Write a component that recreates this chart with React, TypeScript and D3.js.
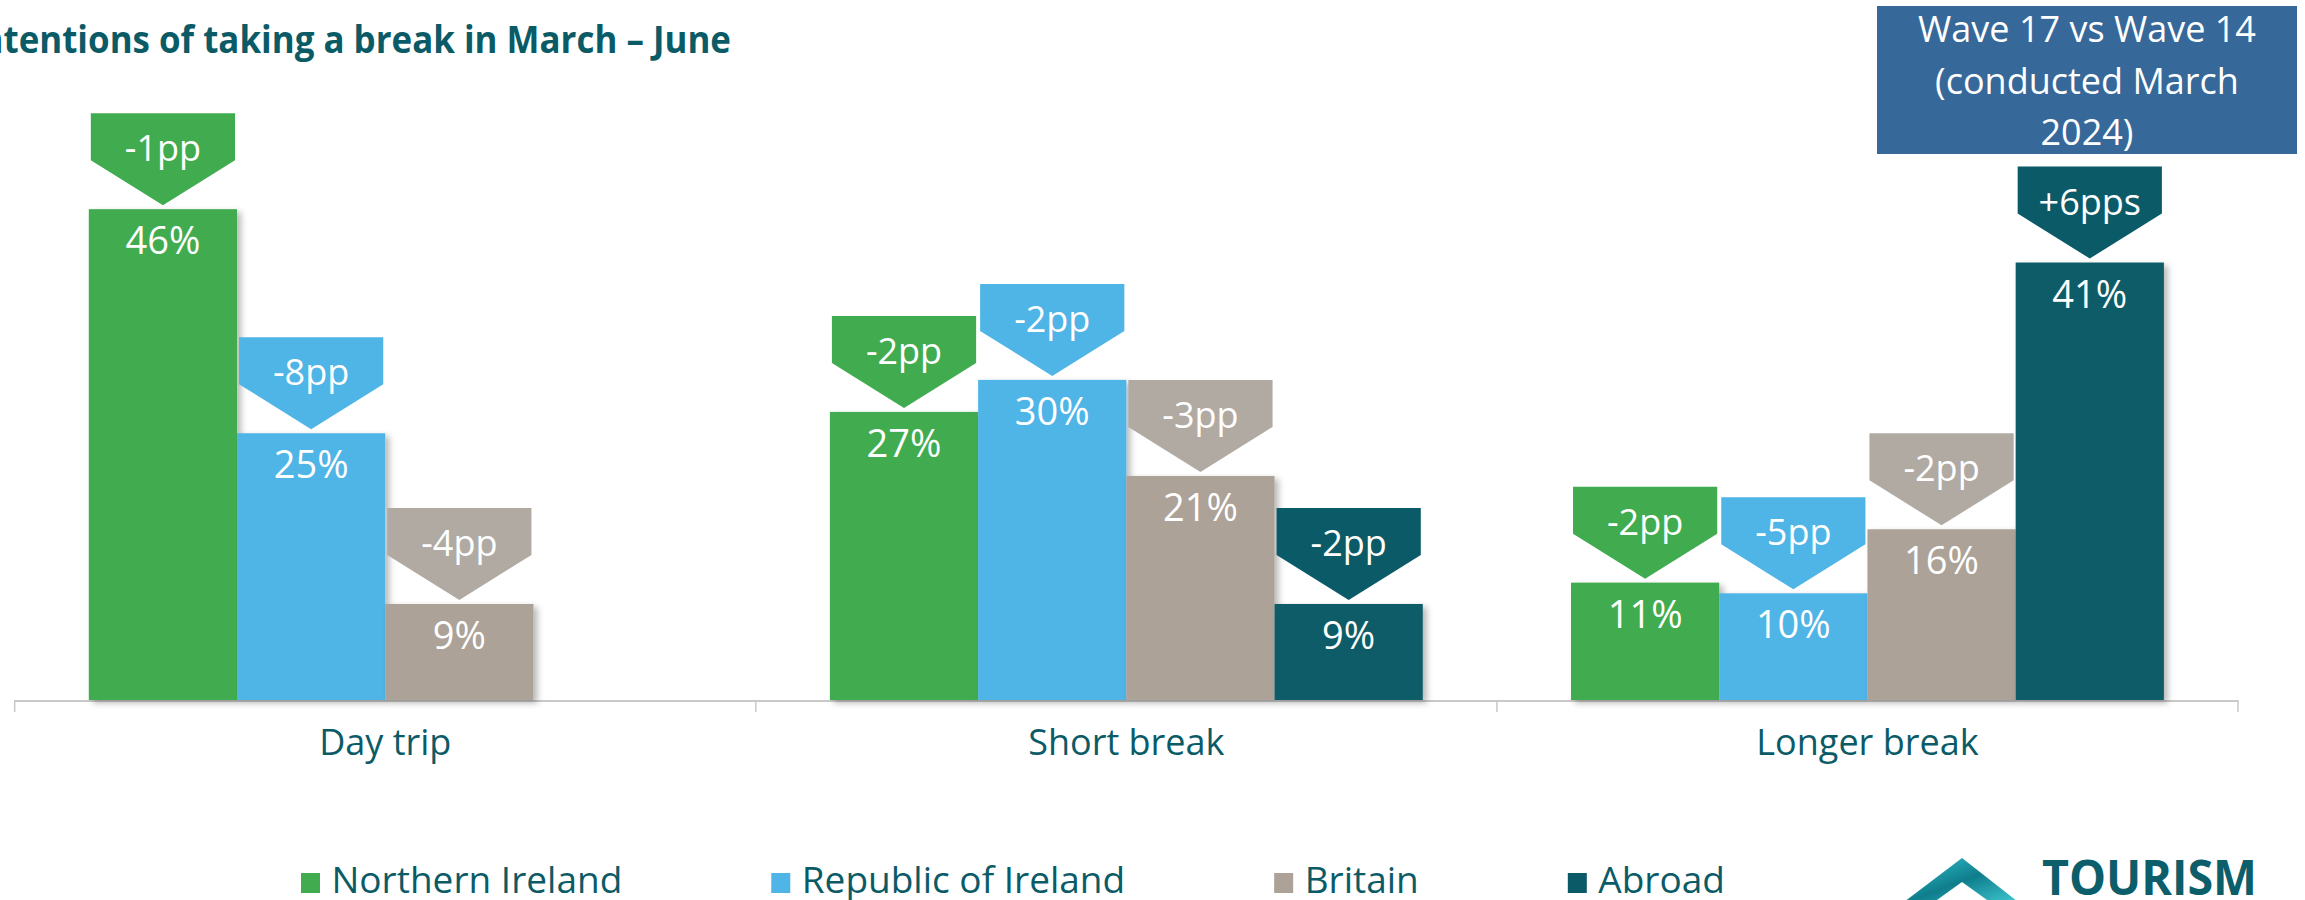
import React, { useEffect, useRef } from "react";
import * as d3 from "d3";

const categories = ["Day trip", "Short break", "Longer break"];
const seriesNames = ["Northern Ireland", "Republic of Ireland", "Britain", "Abroad"];
const niValues = [46, 27, 11];
const roiValues = [25, 30, 10];
const britainValues = [9, 21, 16];
const abroadValues: (number | null)[] = [null, 9, 41];
const niChanges = ["-1pp", "-2pp", "-2pp"];
const roiChanges = ["-8pp", "-2pp", "-5pp"];
const britainChanges = ["-4pp", "-3pp", "-2pp"];
const abroadChanges: (string | null)[] = [null, "-2pp", "+6pps"];
const titleText = "Intentions of taking a break in March \u2013 June";
const waveLines = ["Wave 17 vs Wave 14", "(conducted March", "2024)"];

const W = 2305;
const H = 900;
const FONT = "'Open Sans', 'Noto Sans', sans-serif";
const TEAL_TEXT = "#0b5b67";
const barColors = ["#41ac4f", "#4fb4e6", "#aca298", "#0a5b67"];
const calloutColors = ["#41ac4f", "#4fb4e6", "#b0aaa3", "#0a5b67"];

export default function App() {
  const ref = useRef<SVGSVGElement | null>(null);

  useEffect(() => {
    const svg = d3.select(ref.current);
    svg.selectAll("*").remove();

    const defs = svg.append("defs");
    const f = defs.append("filter").attr("id", "shadow").attr("x", "-10%").attr("y", "-10%").attr("width", "130%").attr("height", "130%");
    f.append("feDropShadow").attr("dx", 4).attr("dy", 3).attr("stdDeviation", 3).attr("flood-color", "#000").attr("flood-opacity", 0.28);
    const grad = defs.append("linearGradient").attr("id", "logoGrad").attr("x1", "0").attr("y1", "0").attr("x2", "1").attr("y2", "1");
    grad.append("stop").attr("offset", "0%").attr("stop-color", "#35c9d4");
    grad.append("stop").attr("offset", "50%").attr("stop-color", "#0f7d8c");
    grad.append("stop").attr("offset", "100%").attr("stop-color", "#43d0d8");

    const valueSets = [niValues, roiValues, britainValues, abroadValues];
    const changeSets = [niChanges, roiChanges, britainChanges, abroadChanges];

    const baseline = 700;
    const x0 = d3.scaleBand<string>().domain(categories).range([14.7, 2238]).padding(0);
    const x1 = d3.scaleBand<string>().domain(seriesNames).range([0, x0.bandwidth()]).paddingInner(0).paddingOuter(0.5);
    const y = d3.scaleLinear().domain([0, 50]).range([baseline, baseline - 533.5]);

    // title
    svg.append("text")
      .attr("x", -31).attr("y", 53)
      .attr("font-family", FONT).attr("font-weight", 700).attr("font-size", 38)
      .attr("fill", TEAL_TEXT)
      .attr("textLength", 762).attr("lengthAdjust", "spacingAndGlyphs")
      .text(titleText);

    // wave box
    svg.append("rect").attr("x", 1877).attr("y", 6).attr("width", 420).attr("height", 148).attr("fill", "#366899");
    waveLines.forEach((l, i) => {
      svg.append("text").attr("x", 2087).attr("y", 42 + i * 51.5)
        .attr("text-anchor", "middle").attr("font-family", FONT).attr("font-size", 36)
        .attr("fill", "#ffffff").text(l);
    });

    // axis
    svg.append("line").attr("x1", x0.range()[0]).attr("x2", x0.range()[1])
      .attr("y1", baseline + 1).attr("y2", baseline + 1).attr("stroke", "#c9c9c9").attr("stroke-width", 2);
    const ticks = categories.map((c) => x0(c) as number).concat([x0.range()[1]]);
    svg.selectAll("line.tick").data(ticks).enter().append("line")
      .attr("x1", (d) => d).attr("x2", (d) => d)
      .attr("y1", baseline).attr("y2", baseline + 12)
      .attr("stroke", "#c9c9c9").attr("stroke-width", 1.5);

    // bars
    const barData: any[] = [];
    categories.forEach((c, ci) => {
      seriesNames.forEach((s, si) => {
        const v = valueSets[si][ci];
        if (v == null) return;
        barData.push({ c, s, si, v, change: changeSets[si][ci] });
      });
    });
    const bw = x1.bandwidth();
    const g = svg.append("g");
    g.selectAll("rect.bar").data(barData).enter().append("rect")
      .attr("x", (d) => (x0(d.c) as number) + (x1(d.s) as number))
      .attr("y", (d) => y(d.v))
      .attr("width", bw)
      .attr("height", (d) => baseline - y(d.v))
      .attr("fill", (d) => barColors[d.si])
      .attr("filter", "url(#shadow)");

    g.selectAll("text.val").data(barData).enter().append("text")
      .attr("x", (d) => (x0(d.c) as number) + (x1(d.s) as number) + bw / 2)
      .attr("y", (d) => y(d.v) + 45)
      .attr("text-anchor", "middle").attr("font-family", FONT).attr("font-size", 38)
      .attr("fill", "#ffffff")
      .text((d) => `${d.v}%`);

    // callouts
    const cH = 92, rH = 47, gap = 4;
    const cg = svg.append("g");
    barData.filter((d) => d.change).forEach((d) => {
      const bx = (x0(d.c) as number) + (x1(d.s) as number);
      const left = bx + 2, right = bx + bw - 2, mid = bx + bw / 2;
      const tip = y(d.v) - gap;
      const top = tip - cH;
      const p = d3.path();
      p.moveTo(left, top);
      p.lineTo(right, top);
      p.lineTo(right, top + rH);
      p.lineTo(mid, tip);
      p.lineTo(left, top + rH);
      p.closePath();
      cg.append("path").attr("d", p.toString()).attr("fill", calloutColors[d.si]);
      cg.append("text").attr("x", mid).attr("y", top + 48)
        .attr("text-anchor", "middle").attr("font-family", FONT).attr("font-size", 36)
        .attr("fill", "#ffffff").text(d.change);
    });

    // category labels
    svg.selectAll("text.cat").data(categories).enter().append("text")
      .attr("x", (d) => (x0(d) as number) + x0.bandwidth() / 2)
      .attr("y", 755)
      .attr("text-anchor", "middle").attr("font-family", FONT).attr("font-size", 36)
      .attr("fill", TEAL_TEXT).text((d) => d);

    // legend
    let lx = 301;
    const ly = 893;
    seriesNames.forEach((s, i) => {
      svg.append("rect").attr("x", lx).attr("y", ly - 20).attr("width", 19).attr("height", 20).attr("fill", barColors[i]);
      const t = svg.append("text").attr("x", lx + 30.5).attr("y", ly)
        .attr("font-family", FONT).attr("font-size", 37).attr("fill", TEAL_TEXT).text(s);
      const tw = (t.node() as SVGTextElement).getComputedTextLength();
      lx = lx + 30.5 + tw + 149;
    });

    // logo
    const lp = d3.path();
    lp.moveTo(1900, 905);
    lp.lineTo(1962, 858);
    lp.lineTo(2022, 905);
    lp.lineTo(1994, 905);
    lp.lineTo(1962, 882);
    lp.lineTo(1930, 905);
    lp.closePath();
    svg.append("path").attr("d", lp.toString()).attr("fill", "url(#logoGrad)");
    svg.append("text").attr("x", 2042).attr("y", 895)
      .attr("font-family", FONT).attr("font-weight", 700).attr("font-size", 48)
      .attr("fill", "#0b5e6a").attr("textLength", 215).attr("lengthAdjust", "spacingAndGlyphs")
      .text("TOURISM");
  }, []);

  return (
    <svg
      ref={ref}
      width={W}
      height={H}
      style={{ position: "absolute", left: 0, top: 0, display: "block", background: "#ffffff" }}
    />
  );
}
